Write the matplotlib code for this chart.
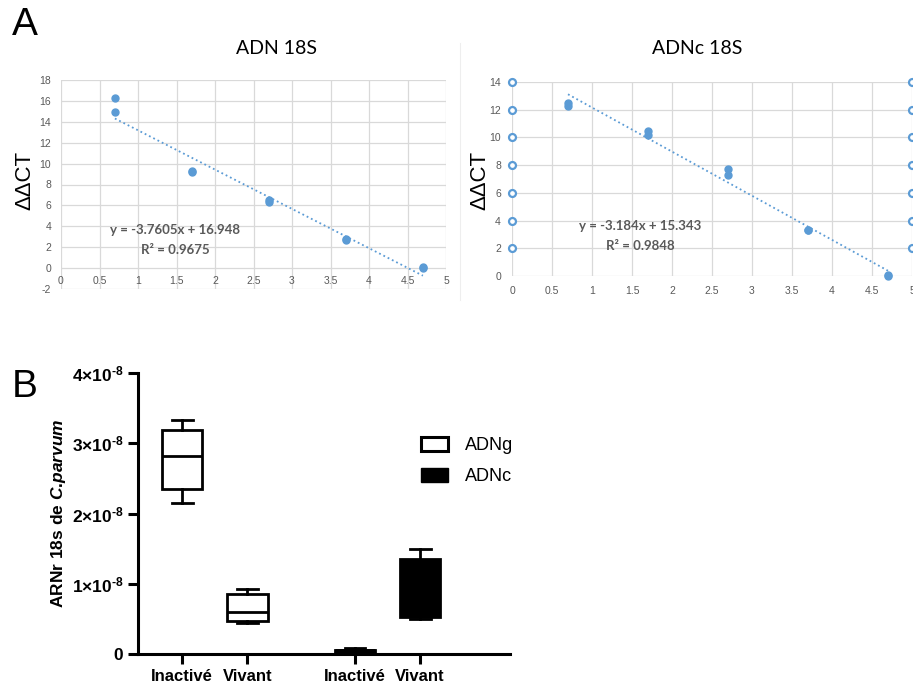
import matplotlib.pyplot as plt
from matplotlib.patches import Patch
from matplotlib.lines import Line2D

plt.rcParams['font.family'] = ['Liberation Sans', 'DejaVu Sans']
plt.rcParams['mathtext.fontset'] = 'custom'
plt.rcParams['mathtext.rm'] = 'Liberation Sans:bold'
plt.rcParams['mathtext.bf'] = 'Liberation Sans:bold'
plt.rcParams['mathtext.it'] = 'Liberation Sans:italic:bold'
plt.rcParams['mathtext.default'] = 'rm'

# ---------------------------
# DATA
# ---------------------------
# panel A, standard curves (log dilution vs ddCT)
adn_x = [0.7, 0.7, 1.7, 1.7, 2.7, 2.7, 3.7, 3.7, 4.7, 4.7]
adn_y = [16.3, 14.9, 9.3, 9.2, 6.5, 6.3, 2.8, 2.7, 0.1, 0.0]
adn_slope, adn_icpt = -3.7605, 16.948

adnc_x = [0.7, 0.7, 1.7, 1.7, 2.7, 2.7, 3.7, 3.7, 4.7, 4.7]
adnc_y = [12.5, 12.3, 10.5, 10.2, 7.7, 7.3, 3.3, 3.3, 0.1, 0.0]
adnc_slope, adnc_icpt = -3.184, 15.343
adnc_axis_marks = [2, 4, 6, 8, 10, 12, 14]

# panel B, box stats (ARNr 18s)
groups = ["Inactivé", "Vivant", "Inactivé", "Vivant"]
types = ["ADNg", "ADNg", "ADNc", "ADNc"]
whislo = [2.15e-8, 0.44e-8, 0.02e-8, 0.50e-8]
q1 = [2.35e-8, 0.47e-8, 0.03e-8, 0.53e-8]
med = [2.82e-8, 0.60e-8, 0.05e-8, 0.90e-8]
q3 = [3.19e-8, 0.85e-8, 0.06e-8, 1.35e-8]
whishi = [3.33e-8, 0.93e-8, 0.08e-8, 1.49e-8]
positions = [1, 2, 3.65, 4.65]

BLUE = '#5b9bd5'
GRID = '#d9d9d9'
TXT = '#595959'

fig = plt.figure(figsize=(9.13, 6.86), dpi=100)
W, H = 913, 686


def px_axes(x0, y0, x1, y1):
    return fig.add_axes([x0 / W, 1 - y1 / H, (x1 - x0) / W, (y1 - y0) / H])


def excel_style(ax):
    for s in ax.spines.values():
        s.set_visible(False)
    ax.grid(True, color=GRID, lw=0.9)
    ax.set_axisbelow(True)
    ax.tick_params(length=0, labelsize=7.5, labelcolor=TXT)


# ---------------------------
# PANEL A - left
# ---------------------------
ax1 = px_axes(61, 80, 446, 289)
excel_style(ax1)
ax1.set_xlim(0, 5)
ax1.set_ylim(-2, 18)
ax1.set_xticks([0, 0.5, 1, 1.5, 2, 2.5, 3, 3.5, 4, 4.5, 5])
ax1.set_xticklabels(['0', '0.5', '1', '1.5', '2', '2.5', '3', '3.5', '4', '4.5', '5'])
ax1.set_yticks(range(-2, 19, 2))
ax1.set_yticklabels([str(v) for v in range(-2, 19, 2)])
ax1.tick_params(axis='y', pad=7)
ax1.tick_params(axis='x', pad=6)
ax1.spines['bottom'].set_position(('data', 0))
ax1.plot(adn_x, adn_y, 'o', color=BLUE, ms=5, zorder=3)
tx = [min(adn_x), max(adn_x)]
ax1.plot(tx, [adn_slope * v + adn_icpt for v in tx], ':', color=BLUE, lw=1.3)
ax1.text(1.48, 3.65, "y = -3.7605x + 16.948", ha='center', va='center',
         fontsize=9.5, fontweight='bold', color=TXT, family='Lato')
ax1.text(1.48, 1.73, "R² = 0.9675", ha='center', va='center',
         fontsize=9.5, fontweight='bold', color=TXT, family='Lato')

# ---------------------------
# PANEL A - right
# ---------------------------
ax2 = px_axes(512, 82, 912, 276)
excel_style(ax2)
ax2.set_xlim(0, 5)
ax2.set_ylim(0, 14)
ax2.set_xticks([0, 0.5, 1, 1.5, 2, 2.5, 3, 3.5, 4, 4.5, 5])
ax2.set_xticklabels(['0', '0.5', '1', '1.5', '2', '2.5', '3', '3.5', '4', '4.5', '5'])
ax2.set_yticks(range(0, 15, 2))
ax2.tick_params(axis='y', pad=8)
ax2.tick_params(axis='x', pad=7)
for xa in [0, 5]:
    ax2.plot([xa] * len(adnc_axis_marks), adnc_axis_marks, 'o', ms=5, mfc='white',
             mec=BLUE, mew=1.6, clip_on=False, zorder=4)
ax2.plot(adnc_x, adnc_y, 'o', color=BLUE, ms=5, zorder=3, clip_on=False)
tx = [min(adnc_x), max(adnc_x)]
ax2.plot(tx, [adnc_slope * v + adnc_icpt for v in tx], ':', color=BLUE, lw=1.3)
ax2.text(1.6, 3.6, "y = -3.184x + 15.343", ha='center', va='center',
         fontsize=9.5, fontweight='bold', color=TXT, family='Lato')
ax2.text(1.6, 2.16, "R² = 0.9848", ha='center', va='center',
         fontsize=9.5, fontweight='bold', color=TXT, family='Lato')

# titles and labels for A
fig.text(277 / W, 1 - 48 / H, "ADN 18S", ha='center', va='center', fontsize=14, family='Lato')
fig.text(697 / W, 1 - 48 / H, "ADNc 18S", ha='center', va='center', fontsize=14, family='Lato')
fig.text(25 / W, 1 - 180 / H, "ΔΔCT", rotation=90, ha='center', va='center', fontsize=16)
fig.text(480 / W, 1 - 180 / H, "ΔΔCT", rotation=90, ha='center', va='center', fontsize=16)
fig.text(25 / W, 1 - 25 / H, "A", ha='center', va='center', fontsize=28)
fig.text(25 / W, 1 - 387 / H, "B", ha='center', va='center', fontsize=28)

# faint chart-area border between the two Excel charts
fig.add_artist(Line2D([460 / W, 460 / W], [1 - 300 / H, 1 - 43 / H], color='#eeeeee', lw=0.8))

# ---------------------------
# PANEL B - boxplot
# ---------------------------
ax3 = px_axes(138, 373, 510, 654)
stats = []
for i in range(len(groups)):
    stats.append(dict(med=med[i], q1=q1[i], q3=q3[i], whislo=whislo[i], whishi=whishi[i], fliers=[]))
LW = 2.0
bp = ax3.bxp(stats, positions=positions, widths=0.62, capwidths=0.32, showfliers=False,
             patch_artist=True,
             boxprops=dict(lw=LW, edgecolor='black'),
             medianprops=dict(color='black', lw=LW),
             whiskerprops=dict(color='black', lw=LW),
             capprops=dict(color='black', lw=LW))
for patch, t in zip(bp['boxes'], types):
    patch.set_facecolor('white' if t == 'ADNg' else 'black')

ax3.set_xlim(0.32, 6.03)
ax3.set_ylim(0, 4e-8)
ax3.set_yticks([0, 1e-8, 2e-8, 3e-8, 4e-8])
ax3.set_yticklabels(['0', r'1×10$^{\text{-8}}$', r'2×10$^{\text{-8}}$', r'3×10$^{\text{-8}}$',
                     r'4×10$^{\text{-8}}$'], fontsize=12.5, fontweight='bold')
ax3.set_xticks(positions)
ax3.set_xticklabels(groups, fontsize=12, fontweight='bold')
for s in ['top', 'right']:
    ax3.spines[s].set_visible(False)
for s in ['left', 'bottom']:
    ax3.spines[s].set_linewidth(2.2)
ax3.tick_params(width=2.2, length=7)
ax3.set_ylabel(r"ARNr 18s de $\mathit{C}$.$\mathit{parvum}$", fontsize=12.5,
               fontweight='bold', labelpad=3)

handles = [Patch(facecolor='white', edgecolor='black', lw=2.2, label='ADNg'),
           Patch(facecolor='black', edgecolor='black', label='ADNc')]
fig.legend(handles=handles, loc='upper left', bbox_to_anchor=(405 / W, 1 - 421 / H),
           frameon=False, fontsize=13, handlelength=1.5, handleheight=0.8,
           labelspacing=0.75, handletextpad=0.9)

plt.savefig("out.png", dpi=100)
print("Saved out.png")
